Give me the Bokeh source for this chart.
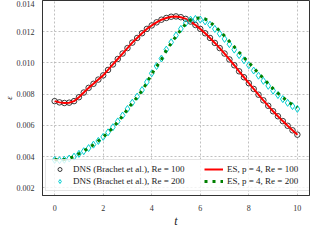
from bokeh.plotting import figure
from bokeh.models import Legend, LegendItem, FixedTicker, CustomJSTickFormatter
from bokeh.embed import file_html
from bokeh.resources import INLINE

t = [round(0.2 * i, 1) for i in range(51)]

dns_100 = [0.00755, 0.00747, 0.00743, 0.00745, 0.00755, 0.00780, 0.00810, 0.00840, 0.00866, 0.00893,
           0.00920, 0.00955, 0.00990, 0.01025, 0.01060, 0.01095, 0.01130, 0.01160, 0.01190, 0.01218,
           0.01240, 0.01260, 0.01277, 0.01288, 0.01296, 0.01298, 0.01293, 0.01282, 0.01265, 0.01243,
           0.01218, 0.01190, 0.01160, 0.01128, 0.01095, 0.01060, 0.01022, 0.00985, 0.00946, 0.00908,
           0.00870, 0.00833, 0.00796, 0.00760, 0.00725, 0.00690, 0.00658, 0.00627, 0.00597, 0.00568,
           0.00540]
es_100 = list(dns_100)

es_200 = [0.00380, 0.00378, 0.00380, 0.00388, 0.00400, 0.00418, 0.00435, 0.00455, 0.00476, 0.00500,
          0.00525, 0.00553, 0.00585, 0.00622, 0.00660, 0.00703, 0.00742, 0.00780, 0.00822, 0.00873,
          0.00930, 0.00976, 0.01022, 0.01080, 0.01126, 0.01170, 0.01212, 0.01250, 0.01275, 0.01285,
          0.01288, 0.01282, 0.01262, 0.01235, 0.01205, 0.01172, 0.01138, 0.01103, 0.01068, 0.01034,
          0.01002, 0.00968, 0.00934, 0.00900, 0.00867, 0.00835, 0.00806, 0.00779, 0.00754, 0.00732,
          0.00714]
dns_200 = [0.00378, 0.00376, 0.00379, 0.00387, 0.00399, 0.00417, 0.00434, 0.00454, 0.00476, 0.00500,
           0.00526, 0.00555, 0.00588, 0.00625, 0.00663, 0.00705, 0.00745, 0.00784, 0.00826, 0.00877,
           0.00933, 0.00980, 0.01028, 0.01085, 0.01132, 0.01176, 0.01218, 0.01255, 0.01277, 0.01282,
           0.01278, 0.01266, 0.01245, 0.01218, 0.01187, 0.01154, 0.01120, 0.01085, 0.01050, 0.01017,
           0.00985, 0.00951, 0.00918, 0.00885, 0.00853, 0.00822, 0.00794, 0.00768, 0.00744, 0.00723,
           0.00705]

x_ticks = [0, 2, 4, 6, 8, 10]
y_ticks = [0.002, 0.004, 0.006, 0.008, 0.010, 0.012, 0.014]

labels = ["DNS (Brachet et al.), Re = 100", "DNS (Brachet et al.), Re = 200",
          "ES, p = 4, Re = 100", "ES, p = 4, Re = 200"]

FONT = "Liberation Serif"

p = figure(width=310, height=230, output_backend="svg", toolbar_location=None,
           x_range=(-0.5, 10.5), y_range=(0.0015, 0.014),
           min_border_left=34, min_border_right=1, min_border_top=0, min_border_bottom=27)

p.background_fill_color = "white"
p.border_fill_color = "white"
p.outline_line_color = "#333333"
p.outline_line_width = 1

for ax in (p.xaxis, p.yaxis):
    ax.axis_line_color = "#333333"
    ax.major_tick_line_color = None
    ax.minor_tick_line_color = None
    ax.major_label_text_font = FONT
    ax.major_label_text_font_size = "8px"
    ax.major_label_text_color = "#333333"
    ax.axis_label_text_font = FONT
    ax.axis_label_text_font_style = "italic"
    ax.axis_label_text_color = "#222222"

p.xaxis.ticker = FixedTicker(ticks=x_ticks)
p.yaxis.ticker = FixedTicker(ticks=y_ticks)
p.yaxis.formatter = CustomJSTickFormatter(code="return tick.toFixed(3);")
p.xaxis.major_label_standoff = 3
p.yaxis.major_label_standoff = 2
p.xaxis.axis_label = "t"
p.xaxis.axis_label_text_font_size = "12px"
p.xaxis.axis_label_standoff = 0
p.yaxis.axis_label = "ε"
p.yaxis.axis_label_text_font_size = "9px"
p.yaxis.axis_label_standoff = 0

p.grid.grid_line_color = "#b0b0b0"
p.grid.grid_line_dash = "2 2"
p.grid.grid_line_width = 0.8

r_dns100 = p.scatter(t, dns_100, marker="circle", size=5.5, fill_color=None,
                     line_color="#222222", line_width=0.9)
r_es100 = p.line(t, es_100, line_color="#ff0000", line_width=2)
r_dns200 = p.scatter(t, dns_200, marker="diamond", size=7, fill_color=None,
                     line_color="#00ced1", line_width=1)
r_es200 = p.line(t, es_200, line_color="#008000", line_width=3, line_dash="3 5")

legend = Legend(items=[
    LegendItem(label=labels[0], renderers=[r_dns100]),
    LegendItem(label=labels[1], renderers=[r_dns200]),
    LegendItem(label=labels[2], renderers=[r_es100]),
    LegendItem(label=labels[3], renderers=[r_es200]),
], ncols=2, location=(3, 4))
legend.label_text_font = FONT
legend.label_text_font_size = "9px"
legend.label_text_color = "#222222"
legend.glyph_width = 19
legend.glyph_height = 10
legend.label_height = 10
legend.label_width = 129
legend.label_standoff = 4
legend.spacing = 2
legend.padding = 4
legend.margin = 0
legend.border_line_color = "#cccccc"
legend.border_line_width = 1
legend.background_fill_alpha = 0.8
p.add_layout(legend, "center")

open("out.html", "w").write(file_html(p, INLINE))
